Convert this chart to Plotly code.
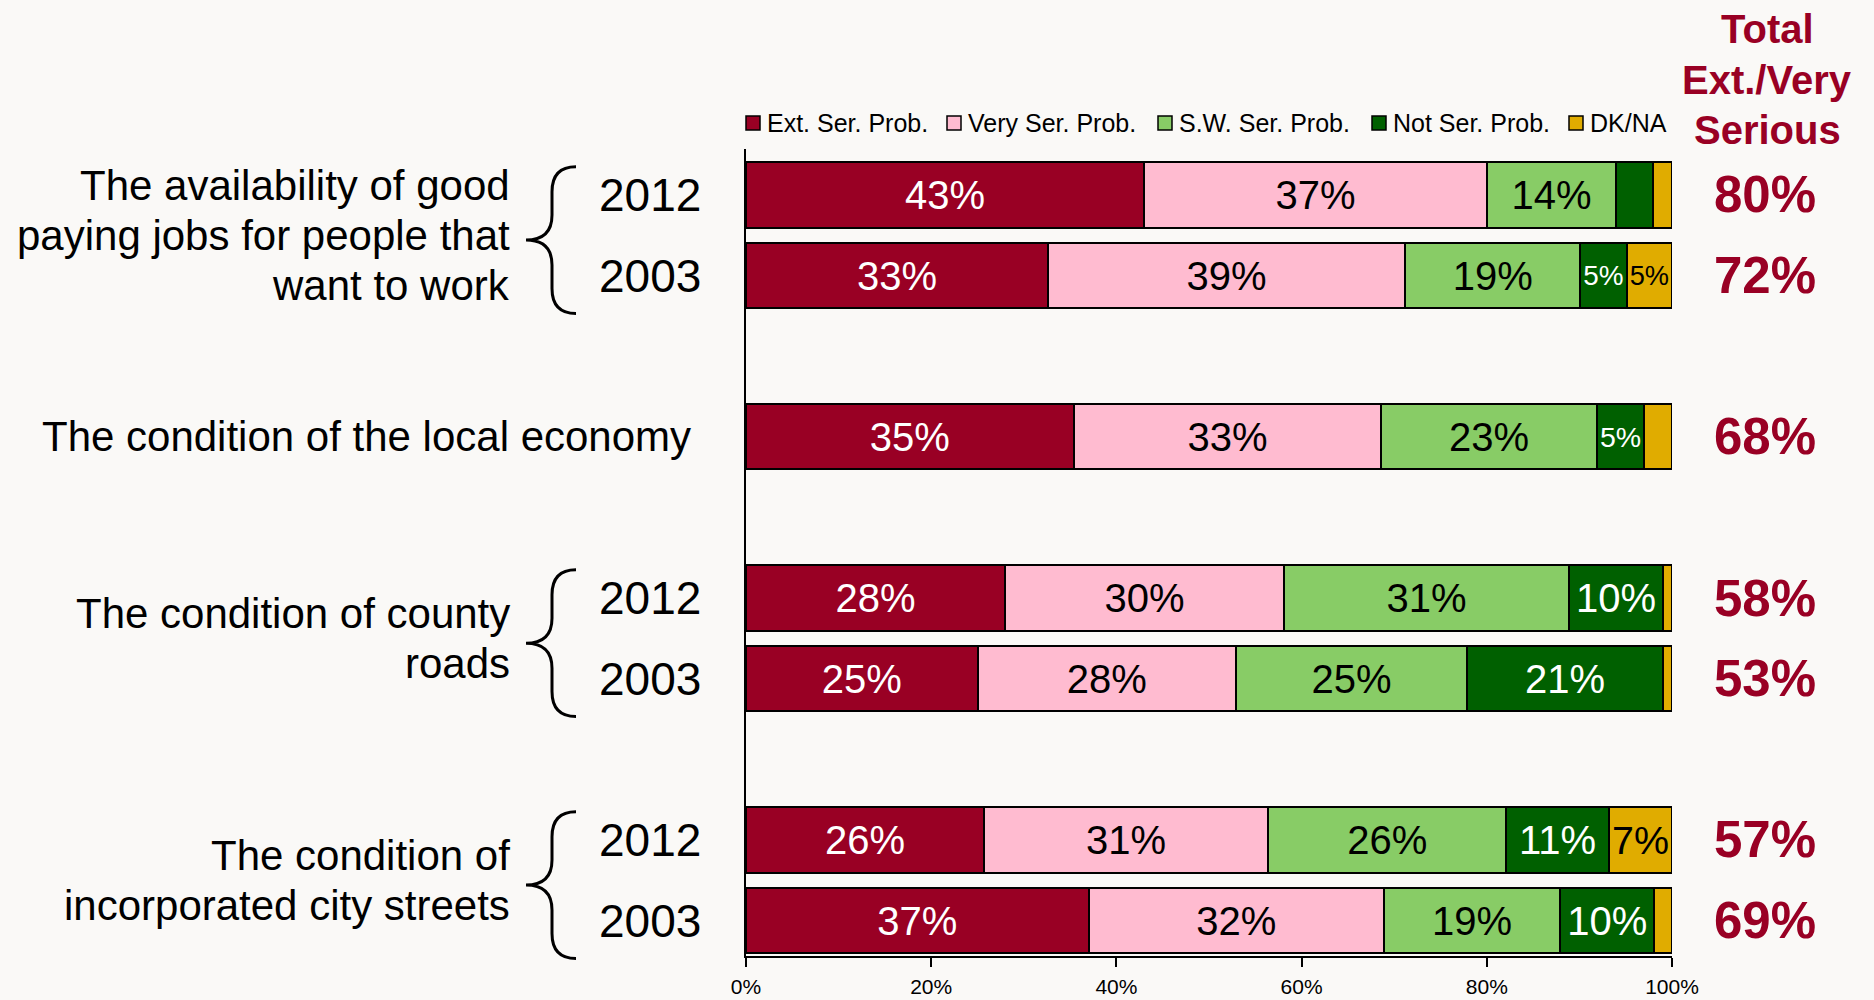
import plotly.graph_objects as go

# ---------------- data ----------------
row_keys = ["jobs_2012", "jobs_2003", "economy", "roads_2012", "roads_2003",
            "streets_2012", "streets_2003"]
row_years = ["2012", "2003", "", "2012", "2003", "2012", "2003"]

ext_ser = [43.0, 32.6, 35.4, 28.0, 25.0, 25.7, 37.0]
very_ser = [37.0, 38.6, 33.2, 30.1, 27.9, 30.7, 31.9]
sw_ser = [14.0, 18.9, 23.3, 30.8, 25.0, 25.7, 19.0]
not_ser = [4.0, 5.0, 5.1, 10.1, 21.1, 11.1, 10.2]
dk_na = [2.0, 4.9, 3.0, 1.0, 1.0, 6.8, 1.9]

totals = [80, 72, 68, 58, 53, 57, 69]

series_names = ["Ext. Ser. Prob.", "Very Ser. Prob.", "S.W. Ser. Prob.",
                "Not Ser. Prob.", "DK/NA"]
series_values = [ext_ser, very_ser, sw_ser, not_ser, dk_na]
series_colors = ["#990024", "#FFBBD0", "#88CC66", "#006000", "#E0AC00"]
series_text_colors = ["white", "black", "black", "white", "black"]

# category order incl. blank spacer rows
category_order = ["jobs_2012", "jobs_2003", " ", "economy", "  ",
                  "roads_2012", "roads_2003", "   ", "streets_2012", "streets_2003"]

groups = [
    (["The availability of good", "paying jobs for people that", "want to work"],
     ["jobs_2012", "jobs_2003"]),
    (["The condition of the local economy"], ["economy"]),
    (["The condition of county", "roads"], ["roads_2012", "roads_2003"]),
    (["The condition of", "incorporated city streets"],
     ["streets_2012", "streets_2003"]),
]

header_lines = ["Total", "Ext./Very", "Serious"]

tick_vals = [0, 20, 40, 60, 80, 100]
tick_text = ["0%", "20%", "40%", "60%", "80%", "100%"]

# ---------------- styling / geometry ----------------
FONT = "Liberation Sans, Arial, Helvetica, sans-serif"
BG = "#FAF9F7"
RED = "#990024"
W, H = 1874, 1000
PLOT_L, PLOT_R, PLOT_T, PLOT_B = 746, 1672, 149, 956
Y_RANGE = [9.44, -0.57]
SLOT_PX = (PLOT_B - PLOT_T) / (Y_RANGE[0] - Y_RANGE[1])


def px_x(px):
    return (px - PLOT_L) / (PLOT_R - PLOT_L)


def px_y(py):
    return (PLOT_B - py) / (PLOT_B - PLOT_T)


def idx(key):
    return category_order.index(key)


def idx_to_paper(i):
    return (Y_RANGE[0] - i) / (Y_RANGE[0] - Y_RANGE[1])


fig = go.Figure()

for name, vals, col, tcol in zip(series_names, series_values, series_colors,
                                 series_text_colors):
    labels = [f"{round(v)}%" if v >= 4.5 else "" for v in vals]
    fig.add_trace(go.Bar(
        name=name, y=row_keys, x=vals, orientation="h",
        marker=dict(color=col, line=dict(color="black", width=2)),
        text=labels, textposition="inside", insidetextanchor="middle",
        textangle=0,
        insidetextfont=dict(family=FONT, size=40, color=tcol),
        hoverinfo="x+name", showlegend=False,
    ))

annotations = []
shapes = []

# legend (drawn to match the compact original legend)
legend_sym_px = [746, 947, 1158, 1372, 1569]
LEG_Y = 123
for name, col, sx in zip(series_names, series_colors, legend_sym_px):
    shapes.append(dict(type="rect", xref="paper", yref="paper",
                       x0=px_x(sx), x1=px_x(sx + 14),
                       y0=px_y(LEG_Y + 7), y1=px_y(LEG_Y - 7),
                       fillcolor=col, line=dict(color="black", width=1.5)))
    annotations.append(dict(
        x=px_x(sx + 19), y=px_y(LEG_Y), xref="paper", yref="paper", text=name,
        showarrow=False, xanchor="left", yanchor="middle",
        font=dict(family=FONT, size=25, color="black")))

# totals
for key, t in zip(row_keys, totals):
    annotations.append(dict(
        x=px_x(1765), y=idx(key), xref="paper", yref="y", text=f"<b>{t}%</b>",
        showarrow=False, xanchor="center", yanchor="middle",
        font=dict(family=FONT, size=51, color=RED)))

# years
for key, yr in zip(row_keys, row_years):
    if yr:
        annotations.append(dict(
            x=px_x(650), y=idx(key), xref="paper", yref="y", text=yr,
            showarrow=False, xanchor="center", yanchor="middle",
            font=dict(family=FONT, size=46, color="black")))

# group labels and braces
LINE_STEP = 50 / SLOT_PX
for lines, keys in groups:
    ids = [idx(k) for k in keys]
    mid = sum(ids) / len(ids)
    n = len(lines)
    for k, line in enumerate(lines):
        yy = mid + (k - (n - 1) / 2) * LINE_STEP
        if len(ids) == 1:
            annotations.append(dict(
                x=px_x(366), y=yy, xref="paper", yref="y", text=line,
                showarrow=False, xanchor="center", yanchor="middle",
                font=dict(family=FONT, size=42, color="black")))
        else:
            annotations.append(dict(
                x=px_x(512), y=yy, xref="paper", yref="y", text=line,
                showarrow=False, xanchor="right", yanchor="middle",
                font=dict(family=FONT, size=42, color="black")))
    if len(ids) == 1:
        continue
    c = mid + 0.06
    yt, ym, yb = idx_to_paper(c - 0.91), idx_to_paper(c), idx_to_paper(c + 0.91)
    r = 25 / (PLOT_B - PLOT_T)
    xt, xs, xe = px_x(526), px_x(552), px_x(576)
    path = (f"M{xe},{yt} Q{xs},{yt} {xs},{yt - r} L{xs},{ym + r} "
            f"Q{xs},{ym} {xt},{ym} Q{xs},{ym} {xs},{ym - r} "
            f"L{xs},{yb + r} Q{xs},{yb} {xe},{yb}")
    shapes.append(dict(type="path", path=path, xref="paper", yref="paper",
                       line=dict(color="black", width=3)))

# header
for line, py in zip(header_lines, [29, 80, 130]):
    annotations.append(dict(
        x=px_x(1767), y=px_y(py), xref="paper", yref="paper",
        text=f"<b>{line}</b>", showarrow=False,
        xanchor="center", yanchor="middle",
        font=dict(family=FONT, size=40, color=RED)))

fig.update_layout(
    width=W, height=H,
    barmode="stack", bargap=0.19,
    paper_bgcolor=BG, plot_bgcolor=BG,
    margin=dict(l=PLOT_L, r=W - PLOT_R, t=PLOT_T, b=H - PLOT_B, autoexpand=False),
    font=dict(family=FONT, color="black"),
    showlegend=False,
    xaxis=dict(range=[0, 100], tickmode="array", tickvals=tick_vals,
               ticktext=tick_text, automargin=False,
               showgrid=False, zeroline=False, showline=True,
               linecolor="black", linewidth=2, ticks="outside", ticklen=9,
               tickwidth=2, tickcolor="black", ticklabelstandoff=2,
               tickfont=dict(family=FONT, size=21, color="black")),
    yaxis=dict(type="category", categoryorder="array",
               categoryarray=category_order, range=Y_RANGE, automargin=False,
               showticklabels=False, showgrid=False, zeroline=False,
               showline=True, linecolor="black", linewidth=1.5, ticks=""),
    annotations=annotations, shapes=shapes,
)

fig.write_html("out.html", config={"displayModeBar": False},
               post_script="document.body.style.margin='0';"
                           "document.body.style.background='" + BG + "';")
